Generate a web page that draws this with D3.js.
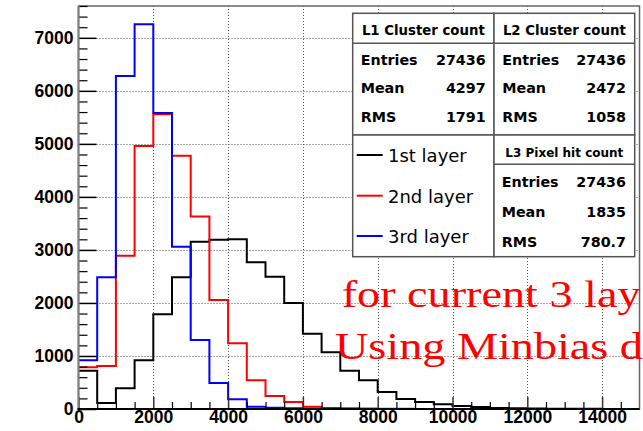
<!DOCTYPE html>
<html>
<head>
<meta charset="utf-8">
<script src="https://cdn.jsdelivr.net/npm/d3@7"></script>
<style>
  html, body { margin: 0; padding: 0; background: #fff; overflow: hidden; }
  svg { display: block; }
</style>
</head>
<body>
<svg id="chart" width="643" height="431"></svg>
<script>
// ---------------- data ----------------
const binLow = [0, 500, 1000, 1500, 2000, 2500, 3000, 3500, 4000, 4500,
                5000, 5500, 6000, 6500, 7000, 7500, 8000, 8500, 9000, 9500,
                10000, 10500, 11000, 11500, 12000, 12500, 13000, 13500, 14000, 14500];
const xMax = 15000;
const yMax = 7600;

const layer1 = [722, 113, 390, 918, 1786, 2484, 3155, 3193, 3200, 2767,
                2495, 1999, 1420, 1069, 722, 541, 321, 189, 132, 89,
                57, 38, 19, 12, 8, 6, 4, 3, 2, 2];
const layer2 = [786, 811, 2891, 4960, 5558, 4777, 3631, 2056, 1239, 541,
                245, 132, 43, 19, 12, 8, 5, 3, 2, 1,
                1, 1, 0, 0, 0, 0, 0, 0, 0, 0];
const layer3 = [918, 2484, 6280, 7255, 5583, 3061, 1301, 490, 183, 43,
                25, 13, 6, 3, 2, 1, 1, 0, 0, 0,
                0, 0, 0, 0, 0, 0, 0, 0, 0, 0];

const seriesNames = ["1st layer", "2nd layer", "3rd layer"];
const seriesColors = ["#000000", "#ff0000", "#0000ff"];

const xMajorTicks = [0, 2000, 4000, 6000, 8000, 10000, 12000, 14000];
const yMajorTicks = [0, 1000, 2000, 3000, 4000, 5000, 6000, 7000];

const statTitles = ["L1 Cluster count", "L2 Cluster count", "L3 Pixel hit count"];
const statLabels = ["Entries", "Mean", "RMS"];
const statValues = [["27436", "4297", "1791"], ["27436", "2472", "1058"], ["27436", "1835", "780.7"]];

// the note is cut by the picture's right edge in the reference; keep the visible part
const noteLines = ["for current 3 lay", "Using Minbias d"];

// ---------------- layout ----------------
const svg = d3.select("#chart");
const L = 78.5, R = 639.5, T = 6, B = 409;
const x = d3.scaleLinear().domain([0, xMax]).range([L, R]);
const y = d3.scaleLinear().domain([0, yMax]).range([B, T]);
const fmt = d3.format("d");

// grid
const grid = svg.append("g").attr("stroke", "#555").attr("stroke-width", 1)
  .attr("stroke-dasharray", "1,2").attr("fill", "none");
grid.selectAll("line.gy").data(yMajorTicks.filter(d => d > 0)).enter().append("line")
  .attr("x1", L + 18).attr("x2", R).attr("y1", d => Math.round(y(d)) + 0.5).attr("y2", d => Math.round(y(d)) + 0.5);
grid.selectAll("line.gx").data(xMajorTicks.filter(d => d > 0)).enter().append("line")
  .attr("y1", T).attr("y2", B - 12).attr("x1", d => Math.round(x(d)) + 0.5).attr("x2", d => Math.round(x(d)) + 0.5);

// histograms
const line = d3.line().curve(d3.curveStepAfter).x(d => x(d[0])).y(d => y(d[1]));
[layer1, layer2, layer3].forEach((vals, i) => {
  const pts = binLow.map((b, j) => [b, vals[j]]);
  pts.push([xMax, vals[vals.length - 1]]);
  svg.append("path").attr("d", line(pts)).attr("fill", "none")
    .attr("stroke", seriesColors[i]).attr("stroke-width", 2).attr("stroke-linejoin", "miter");
});

// frame
svg.append("rect").attr("x", L).attr("y", T).attr("width", R - L).attr("height", B - T)
  .attr("fill", "none").attr("stroke", "#666").attr("stroke-width", 1.5);

// y axis
const yMinor = d3.range(0, yMax + 1, 200).filter(v => v % 1000 !== 0);
const yAxis = svg.append("g").attr("transform", `translate(${L},0)`)
  .call(d3.axisLeft(y).tickValues(yMajorTicks).tickFormat(fmt).tickSizeInner(-18).tickSizeOuter(0).tickPadding(5));
yAxis.select(".domain").remove();
yAxis.selectAll("line").attr("stroke", "#000").attr("stroke-width", 1.5);
yAxis.selectAll("text").attr("font-family", "Liberation Sans, Arial, sans-serif")
  .attr("font-weight", "bold").attr("font-size", 17.5).attr("fill", "#000");
const yAxisMinor = svg.append("g").attr("transform", `translate(${L},0)`)
  .call(d3.axisLeft(y).tickValues(yMinor).tickSizeInner(-9).tickSizeOuter(0).tickFormat(""));
yAxisMinor.select(".domain").remove();
yAxisMinor.selectAll("line").attr("stroke", "#000").attr("stroke-width", 1.2);

// x axis
const xMinor = binLow.filter(v => v % 2000 !== 0);
const xAxis = svg.append("g").attr("transform", `translate(0,${B})`)
  .call(d3.axisBottom(x).tickValues(xMajorTicks).tickFormat(fmt).tickSizeInner(-12).tickSizeOuter(0).tickPadding(2));
xAxis.select(".domain").remove();
xAxis.selectAll("line").attr("stroke", "#333").attr("stroke-width", 1.5);
xAxis.selectAll("text").attr("font-family", "Liberation Sans, Arial, sans-serif")
  .attr("font-weight", "bold").attr("font-size", 17.5).attr("fill", "#000");
const xAxisMinor = svg.append("g").attr("transform", `translate(0,${B})`)
  .call(d3.axisBottom(x).tickValues(xMinor).tickSizeInner(-7).tickSizeOuter(0).tickFormat(""));
xAxisMinor.select(".domain").remove();
xAxisMinor.selectAll("line").attr("stroke", "#000").attr("stroke-width", 1.2);

// axis lines
svg.append("line").attr("x1", L).attr("x2", L).attr("y1", T).attr("y2", B + 1)
  .attr("stroke", "#808080").attr("stroke-width", 2);
svg.append("line").attr("x1", L - 1).attr("x2", R).attr("y1", B).attr("y2", B)
  .attr("stroke", "#000").attr("stroke-width", 2);

// stat boxes
const bx0 = 352.7, bx1 = 494, bx2 = 634.7;
const by0 = 13.3, by1 = 135, by2 = 256.7;
const boxStroke = "#555";
function box(x0, y0, x1, y1) {
  svg.append("rect").attr("x", x0).attr("y", y0).attr("width", x1 - x0).attr("height", y1 - y0)
    .attr("fill", "#fff").attr("stroke", boxStroke).attr("stroke-width", 1.5);
}
box(bx0, by0, bx1, by1);
box(bx1, by0, bx2, by1);
box(bx0, by1, bx1, by2);
box(bx1, by1, bx2, by2);
svg.append("line").attr("x1", bx0).attr("x2", bx2).attr("y1", 43.3).attr("y2", 43.3)
  .attr("stroke", boxStroke).attr("stroke-width", 1.5);
svg.append("line").attr("x1", bx1).attr("x2", bx2).attr("y1", 164.3).attr("y2", 164.3)
  .attr("stroke", boxStroke).attr("stroke-width", 1.5);

const sans = "DejaVu Sans, Verdana, sans-serif";
const statCols = [
  { cx: (bx0 + bx1) / 2, tY: 34.5, tSize: 13.3, lx: 360.7, vx: 485.7, rows: [65, 93.3, 121.7] },
  { cx: (bx1 + bx2) / 2, tY: 34.5, tSize: 13.3, lx: 502.3, vx: 626, rows: [65, 93.3, 121.7] },
  { cx: (bx1 + bx2) / 2, tY: 156.5, tSize: 12, lx: 501.7, vx: 626, rows: [186.7, 217, 247] }
];
statCols.forEach((c, i) => {
  svg.append("text").attr("x", c.cx).attr("y", c.tY).attr("text-anchor", "middle")
    .attr("font-family", sans).attr("font-weight", "bold").attr("font-size", c.tSize)
    .text(statTitles[i]);
  statLabels.forEach((lab, j) => {
    svg.append("text").attr("x", c.lx).attr("y", c.rows[j])
      .attr("font-family", sans).attr("font-weight", "bold").attr("font-size", 14.3).text(lab);
    svg.append("text").attr("x", c.vx).attr("y", c.rows[j]).attr("text-anchor", "end")
      .attr("font-family", sans).attr("font-weight", "bold").attr("font-size", 14.3).text(statValues[i][j]);
  });
});

// legend
const legLineY = [155, 195.7, 236];
const legTextY = [161.7, 202.7, 242.7];
seriesNames.forEach((n, i) => {
  svg.append("line").attr("x1", 356.7).attr("x2", 382.7).attr("y1", legLineY[i]).attr("y2", legLineY[i])
    .attr("stroke", seriesColors[i]).attr("stroke-width", 2);
  svg.append("text").attr("x", 388).attr("y", legTextY[i])
    .attr("font-family", sans).attr("font-size", 18).attr("fill", "#000").text(n);
});

// red note
const noteX = [341.7, 335];
const noteY = [307, 359];
noteLines.forEach((t, i) => {
  svg.append("text").attr("transform", `translate(${noteX[i]},${noteY[i]}) scale(1.2,1)`)
    .attr("font-family", "Liberation Serif, Times New Roman, serif").attr("font-size", 38.5)
    .attr("fill", "#ff0000").text(t);
});
</script>
</body>
</html>
